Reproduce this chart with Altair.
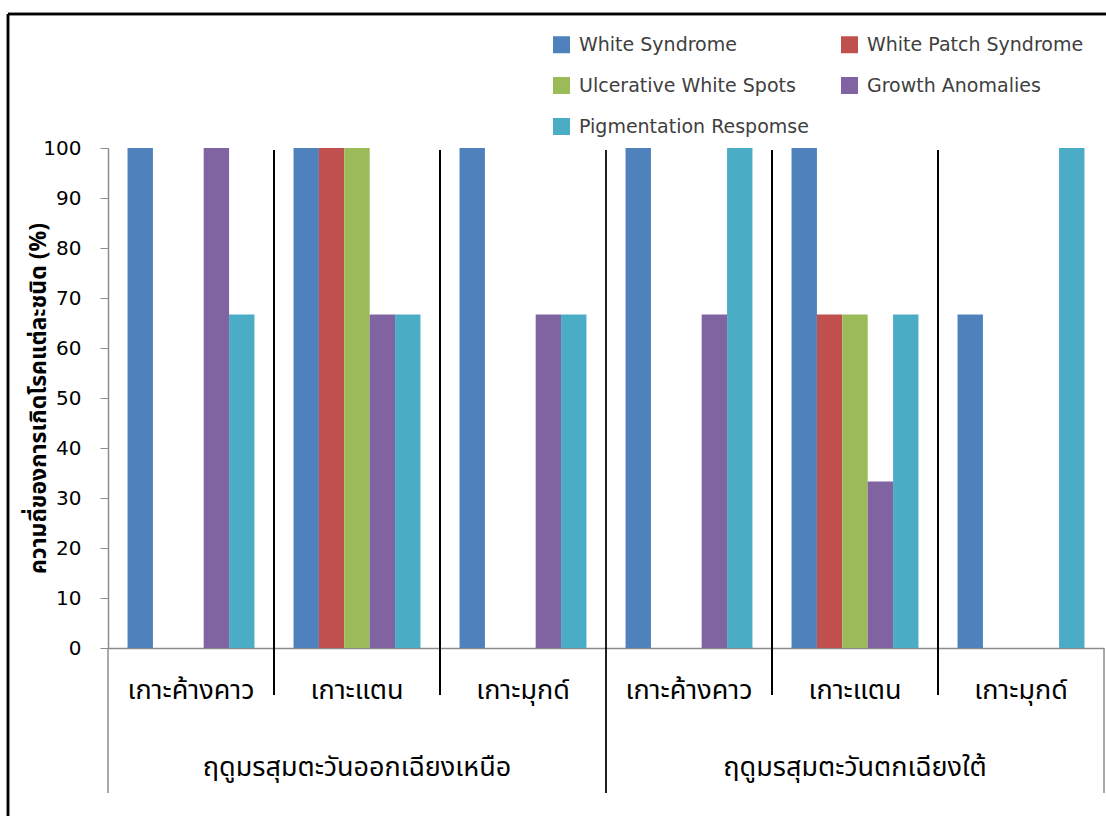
import altair as alt
import pandas as pd

seasons = ["ฤดูมรสุมตะวันออกเฉียงเหนือ", "ฤดูมรสุมตะวันตกเฉียงใต้"]
islands = ["เกาะค้างคาว", "เกาะแตน", "เกาะมุกด์"]
diseases = [
    "White Syndrome",
    "White Patch Syndrome",
    "Ulcerative White Spots",
    "Growth Anomalies",
    "Pigmentation Respomse",
]
colors = ["#4F81BD", "#C0504D", "#9BBB59", "#8064A2", "#4BACC6"]

# frequency (%) of each disease per island; columns follow `diseases`
ne_values = [
    [100, 0, 0, 100, 66.7],
    [100, 100, 100, 66.7, 66.7],
    [100, 0, 0, 66.7, 66.7],
]
sw_values = [
    [100, 0, 0, 66.7, 100],
    [100, 66.7, 66.7, 33.3, 66.7],
    [66.7, 0, 0, 0, 100],
]

y_title = "ความถี่ของการเกิดโรคแต่ละชนิด (%)"

THAI = "Tahoma, 'Noto Sans Thai', 'Noto Sans', sans-serif"
LATIN = "'DejaVu Sans', Verdana, sans-serif"
AXIS_GREY = "#8C8C8C"

rows = []
site_order = []
for season, table in zip(seasons, [ne_values, sw_values]):
    for island, vals in zip(islands, table):
        site = f"{season}|{island}"
        site_order.append(site)
        for disease, v in zip(diseases, vals):
            rows.append({"site": site, "disease": disease, "value": v})
df = pd.DataFrame(rows)

n_sites = len(site_order)
per_season = len(islands)

# category dividers: island boundaries are short, the season boundary runs to the bottom
div_rows = []
for b in range(n_sites + 1):
    if b == 0 or b == n_sites:
        div_rows.append({"pos": b, "top": 0, "bottom": -29, "kind": "edge"})
    elif b % per_season == 0:
        div_rows.append({"pos": b, "top": 99.6, "bottom": -29, "kind": "season"})
    else:
        div_rows.append({"pos": b, "top": 99.6, "bottom": -9.4, "kind": "island"})
dividers = pd.DataFrame(div_rows)

season_df = pd.DataFrame(
    {
        "season": seasons,
        "mid": [per_season * i + per_season / 2 for i in range(len(seasons))],
        "level": [-24] * len(seasons),
    }
)

y_scale = alt.Scale(domain=[0, 100], nice=False, zero=False)
pos_scale = alt.Scale(domain=[0, n_sites], nice=False, zero=False)

bars = alt.Chart(df).mark_bar().encode(
    x=alt.X(
        "site:N",
        sort=site_order,
        scale=alt.Scale(paddingInner=0, paddingOuter=0),
        axis=alt.Axis(
            title=None,
            labelExpr="split(datum.label, '|')[1]",
            labelAngle=0,
            ticks=False,
            tickSize=0,
            labelPadding=42,
            labelBaseline="middle",
            labelFont=THAI,
            labelFontSize=27,
            labelColor="#000000",
            labelLimit=0,
            domainColor=AXIS_GREY,
            domainWidth=1.5,
            grid=False,
        ),
    ),
    xOffset=alt.XOffset(
        "disease:N", sort=diseases, scale=alt.Scale(paddingInner=0, paddingOuter=0.77)
    ),
    y=alt.Y(
        "value:Q",
        scale=y_scale,
        axis=alt.Axis(
            title=y_title,
            values=list(range(0, 101, 10)),
            grid=False,
            domainColor=AXIS_GREY,
            domainWidth=1.5,
            tickColor=AXIS_GREY,
            tickSize=8,
            labelPadding=19,
            labelFont=LATIN,
            labelFontSize=20,
            labelColor="#000000",
            titleFont=THAI,
            titleFontSize=23,
            titleFontWeight="bold",
            titleColor="#000000",
            titleX=-70,
            titleY=250,
            titleAlign="center",
            titleBaseline="middle",
        ),
    ),
    color=alt.Color(
        "disease:N",
        sort=diseases,
        scale=alt.Scale(domain=diseases, range=colors),
        legend=alt.Legend(
            title=None,
            orient="none",
            direction="horizontal",
            legendX=444,
            legendY=-113,
            columns=2,
            columnPadding=31,
            rowPadding=21,
            padding=0,
            symbolType="square",
            symbolSize=289,
            symbolStrokeWidth=0,
            labelOffset=8,
            labelLimit=0,
            labelFont=LATIN,
            labelFontSize=19,
            labelColor="#404040",
        ),
    ),
)

rules = alt.Chart(dividers).mark_rule().encode(
    x=alt.X("pos:Q", scale=pos_scale, axis=None),
    y=alt.Y("top:Q", scale=y_scale),
    y2="bottom:Q",
    color=alt.Color(
        "kind:N",
        scale=alt.Scale(domain=["edge", "season", "island"], range=[AXIS_GREY, "#000000", "#000000"]),
        legend=None,
    ),
    strokeWidth=alt.StrokeWidth(
        "kind:N", scale=alt.Scale(domain=["edge", "season", "island"], range=[1.5, 2, 2]), legend=None
    ),
)

season_text = alt.Chart(season_df).mark_text(
    font=THAI, fontSize=27, color="#000000", baseline="middle", align="center"
).encode(
    x=alt.X("mid:Q", scale=pos_scale, axis=None),
    y=alt.Y("level:Q", scale=y_scale),
    text="season:N",
)

# outer frame of the figure (left and top edges)
frame_left = alt.Chart(season_df).mark_rule(color="#000000", strokeWidth=2.5).encode(
    x=alt.value(-100), y=alt.value(-134), y2=alt.value(700)
)
frame_top = alt.Chart(season_df).mark_rule(color="#000000", strokeWidth=2.5).encode(
    x=alt.value(-100), x2=alt.value(1000), y=alt.value(-134)
)

chart = (
    alt.layer(bars, rules, season_text, frame_left, frame_top)
    .resolve_scale(x="independent", color="independent", strokeWidth="independent")
    .properties(
        width=996,
        height=500,
        autosize=alt.AutoSizeParams(type="none"),
        padding={"left": 108, "top": 148, "right": 2, "bottom": 168},
    )
    .configure_view(stroke=None)
)

chart.save("out.html", embed_options={"renderer": "svg", "actions": False})
